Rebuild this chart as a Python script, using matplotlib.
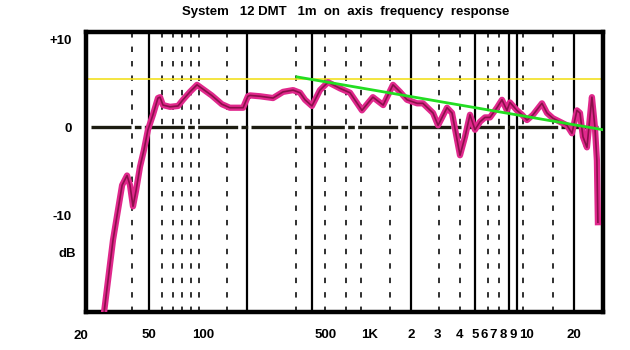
import numpy as np
import matplotlib
matplotlib.use("Agg")
import matplotlib.pyplot as plt
from matplotlib.ticker import FixedLocator, FixedFormatter, NullLocator

# --- dati della misura ---
freq_hz = [26.9, 30.8, 34.8, 37.2, 38.7, 40.3, 42.0, 44.3, 46.7, 49.3,
           52.6, 56.1, 57.6, 59.8, 65.5, 72.6, 77.3, 84.6, 92.6,
           112, 128, 142, 169, 180, 185, 211, 250, 285, 325, 356, 380, 416, 462,
           516, 623, 730, 881,
           1050, 1250, 1475, 1660, 1870,
           2200, 2410, 2820,
           3040, 3400, 3620,
           4000, 4310, 4640,
           5000, 5530,
           6100, 6650,
           7380, 7890,
           8380, 8680,
           9270, 9630, 10000,
           10930, 12470, 13430, 14670, 16270, 18030, 19410,
           20890, 21840, 22830, 24210, 26060, 27240, 28050, 28470]
livello_db = [-22.0, -12.8, -6.6, -5.5, -6.6, -9.0, -7.2, -4.5, -2.6, -0.3,
              1.4, 3.3, 3.4, 2.5, 2.3, 2.4, 3.1, 4.0, 4.8,
              3.6, 2.6, 2.2, 2.2, 3.5, 3.6, 3.5, 3.3, 4.0, 4.2, 3.9, 3.1, 2.4, 4.2,
              5.1, 4.4, 3.9, 1.9,
              3.4, 2.5, 4.8, 4.0, 3.1,
              2.7, 2.7, 1.6,
              0.2, 2.2, 1.6,
              -3.2, -1.1, 1.4,
              -0.3, 0.6,
              1.1, 1.1,
              2.2, 3.1,
              1.9, 2.8,
              1.9, 1.4, 0.8,
              1.4, 2.7, 1.6, 1.0, 0.6, 0.2, -0.7,
              1.9, 1.6, -1.1, -2.3, 3.4, 0.0, -3.8, -10.8]

# retta di tendenza (verde) e livello di riferimento (giallo)
trend_hz = [342, 30670]
trend_db = [5.7, -0.3]
livello_rif_db = 5.45

# etichette asse x
tick_hz = [20, 50, 100, 500, 1000, 2000, 3000, 4000, 5000,
           6000, 7000, 8000, 9000, 10000, 20000]
tick_lbl = ["20", "50", "100", "500", "1K", "2", "3", "4", "5",
            "6", "7", "8", "9", "10", "20"]
ytick_db = [10, 0, -10]
ytick_lbl = ["+10", "0", "-10"]

# linee verticali della carta (continue e tratteggiate)
griglia_piena = [50, 178, 416, 2000, 5000, 8580, 9270, 20000]
griglia_tratt = [40, 59, 68, 76, 86, 95, 137, 338, 494, 685, 868, 1400,
                 3075, 4000, 6420, 7580, 9700, 14670]

# scala della carta: non proprio logaritmica, quindi interpolo a tratti
scala_hz = np.array([10, 20, 50, 100, 500, 1000, 2000, 3000, 4000, 5000,
                     6000, 7000, 8000, 9000, 10000, 20000, 100000])
scala_pos = np.array([30, 81, 149, 203, 326, 370, 411, 437, 460, 475,
                      484, 493, 503, 513, 527, 574, 683])


def avanti(f):
    f = np.clip(np.asarray(f, dtype=float), 1e-3, None)
    return np.interp(np.log10(f), np.log10(scala_hz), scala_pos,
                     left=scala_pos[0], right=scala_pos[-1])


def indietro(p):
    return 10 ** np.interp(p, scala_pos, np.log10(scala_hz))


plt.rcParams['font.family'] = ['Liberation Sans', 'DejaVu Sans']
fig = plt.figure(figsize=(6.3, 3.5), dpi=100)
ax = fig.add_axes([86 / 630, 1 - 312 / 350, 517 / 630, 280 / 350])
ax.set_xscale('function', functions=(avanti, indietro))
ax.set_xlim(indietro(86), indietro(603))
ax.set_ylim(-21.0, 10.8)

for f in griglia_piena:
    ax.axvline(f, color='black', lw=1.6, zorder=1)
for f in griglia_tratt:
    ax.axvline(f, color='#202020', lw=1.3, dashes=(3, 5), zorder=1)

ax.axhline(0, xmin=0.01, xmax=0.99, color='#1c1c10', lw=2.4,
           dashes=(12, 1, 2, 1), zorder=2)
ax.axhline(livello_rif_db, color='#f2e020', lw=1.2, zorder=2)

ax.plot(freq_hz, livello_db, color='#e0288c', lw=4.5, solid_joinstyle='round', zorder=3)
ax.plot(freq_hz, livello_db, color='#8a0f4a', lw=1.2, zorder=4)
ax.plot(trend_hz, trend_db, color='#22dd22', lw=2, zorder=5)

for s in ax.spines.values():
    s.set_linewidth(3.2)
    s.set_color('black')

ax.xaxis.set_major_locator(FixedLocator(tick_hz))
ax.xaxis.set_major_formatter(FixedFormatter(tick_lbl))
ax.xaxis.set_minor_locator(NullLocator())
ax.yaxis.set_major_locator(FixedLocator(ytick_db))
ax.yaxis.set_major_formatter(FixedFormatter(ytick_lbl))
ax.yaxis.set_minor_locator(NullLocator())
ax.tick_params(axis='x', length=0, pad=12, labelsize=9.5)
ax.tick_params(axis='y', length=0, pad=10, labelsize=9.5)
for t in ax.get_xticklabels() + ax.get_yticklabels():
    t.set_fontweight('bold')

# il "20" iniziale cade fuori dai limiti dell'asse: lo scrivo a mano
ax.text(tick_hz[0], -0.084, tick_lbl[0], transform=ax.get_xaxis_transform(),
        ha='center', va='center', fontsize=9.5, fontweight='bold', clip_on=False)

fig.text(67 / 630, 1 - 254 / 350, "dB", ha='center', va='center',
         fontsize=9.5, fontweight='bold')
fig.text(346 / 630, 1 - 12 / 350,
         "System   12 DMT   1m  on  axis  frequency  response",
         ha='center', va='center', fontsize=9.5, fontweight='bold')

fig.savefig("out.png", dpi=100)
